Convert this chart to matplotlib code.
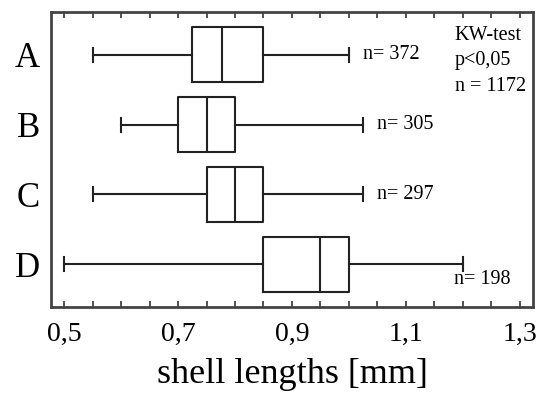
import numpy as np
import matplotlib.pyplot as plt

plt.rcParams['font.family'] = ['Liberation Serif', 'DejaVu Serif']

# grupos y sus estadisticas (min, Q1, mediana, Q3, max)
grupos = ['A', 'B', 'C', 'D']
minimos = [0.55, 0.60, 0.55, 0.50]
q1 = [0.725, 0.70, 0.75, 0.85]
medianas = [0.777, 0.75, 0.80, 0.95]
q3 = [0.85, 0.80, 0.85, 1.00]
maximos = [1.00, 1.025, 1.025, 1.20]
n_grupo = [372, 305, 297, 198]
ticks_x = [0.5, 0.7, 0.9, 1.1, 1.3]

posiciones = [4, 3, 2, 1]

stats = []
for i in range(len(grupos)):
    stats.append({'whislo': minimos[i], 'q1': q1[i], 'med': medianas[i],
                  'q3': q3[i], 'whishi': maximos[i], 'fliers': [],
                  'label': grupos[i]})

fig = plt.figure(figsize=(5.53, 3.93), dpi=100)
ax = fig.add_axes([0.0922, 0.2188, 0.8716, 0.7507])

lw = 1.5
ax.bxp(stats, positions=posiciones, vert=False, widths=0.79,
       capwidths=0.2, showfliers=False,
       boxprops=dict(color='#222222', lw=lw),
       medianprops=dict(color='#222222', lw=lw),
       whiskerprops=dict(color='#222222', lw=lw),
       capprops=dict(color='#222222', lw=lw))

# etiquetas n= junto a los bigotes
for i in range(3):
    ax.text(maximos[i] + 0.025, posiciones[i], f'n= {n_grupo[i]}',
            ha='left', va='center', fontsize=14.5)
ax.text(maximos[3] - 0.015, posiciones[3] - 0.22, f'n= {n_grupo[3]}',
        ha='left', va='center', fontsize=14.5)

ax.text(0.838, 0.952, 'KW-test\np<0,05\nn = 1172', transform=ax.transAxes,
        ha='left', va='top', fontsize=14.5, linespacing=1.45, multialignment='left')

ax.set_xlim(0.477, 1.323)
ax.set_ylim(0.386, 4.614)
ax.set_xticks(ticks_x)
ax.set_xticklabels([f'{t:.1f}'.replace('.', ',') for t in ticks_x], fontsize=20)
ax.set_xticks(np.arange(0.5, 1.31, 0.05), minor=True)
ax.tick_params(axis='x', which='both', direction='in', top=True, length=4,
               width=1.2, pad=11, color='#333333')
ax.set_yticks(posiciones)
ax.set_yticklabels(grupos, fontsize=25)
ax.tick_params(axis='y', length=0, pad=8)
ax.set_xlabel('shell lengths [mm]', fontsize=26, labelpad=8)

for s in ax.spines.values():
    s.set_linewidth(2.0)
    s.set_color('#444444')

fig.savefig('out.png', dpi=100)
